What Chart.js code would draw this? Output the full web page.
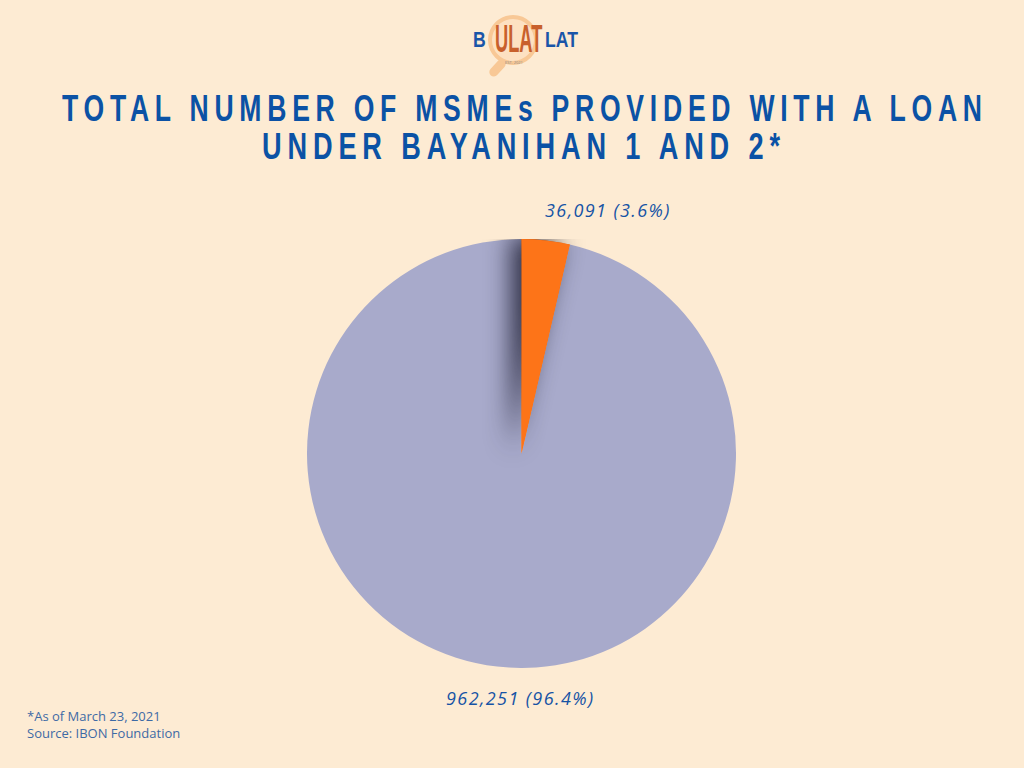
<!DOCTYPE html>
<html>
<head>
<meta charset="utf-8">
<script src="https://cdn.jsdelivr.net/npm/chart.js@4.4.1/dist/chart.umd.min.js"></script>
<style>
  html, body { margin:0; padding:0; }
  body { width:1024px; height:768px; background:#fdebd3; position:relative; overflow:hidden; font-family:"Open Sans", sans-serif; }
  .tl { position:absolute; color:#0b52a5; font-family:"Liberation Sans", Arial, sans-serif; font-weight:bold;
        font-size:37px; letter-spacing:8px; line-height:37px; white-space:nowrap; transform-origin:left top; }
  #t1 { left:62px; top:90px; }
  #t2 { left:262px; top:128px; }
  #pieWrap { position:absolute; left:307px; top:239px; width:429px; height:429px; }
  .lbl { position:absolute; color:#1653a5; font-style:italic; font-size:18px; letter-spacing:1.4px; font-weight:500; white-space:nowrap; }
  #lblSmall { left:545px; top:198px; }
  #lblBig { left:446px; top:686px; }
  #foot { position:absolute; left:27px; top:708px; color:#3d6aa5; font-size:13px; line-height:17px; }
  #logo { position:absolute; left:0; top:0; width:1024px; height:90px; }
  #ring { position:absolute; left:488px; top:15px; width:42px; height:42px; border-radius:50%; border:4px solid #f8c896; background:#fde1c2; }
  #handle { position:absolute; left:493px; top:58px; width:9px; height:20px; background:#f8c896; border-radius:5px; transform:rotate(42deg); }
  .lb { position:absolute; top:27px; font-family:"Liberation Sans", sans-serif; font-weight:bold; font-size:22px; color:#1a55a8; transform-origin:left top; transform:scaleX(0.8); }
  #ulat { position:absolute; top:20px; left:495px; font-family:"Liberation Sans", sans-serif; font-weight:bold; font-size:38px; line-height:38px; color:#c8602c; transform-origin:left top; transform:scaleX(0.48); letter-spacing:0px; }
  #est { position:absolute; top:60px; left:505px; font-size:4px; color:#888; }
</style>
</head>
<body>
<div id="logo">
  <div id="handle"></div>
  <div id="ring"></div>
  <span class="lb" style="left:473px;">B</span>
  <span id="ulat">ULAT</span>
  <span id="est">EST. 2021</span>
  <span class="lb" style="left:545px;">LAT</span>
</div>
<div class="tl" id="t1">TOTAL NUMBER OF MSMEs PROVIDED WITH A LOAN</div>
<div class="tl" id="t2">UNDER BAYANIHAN 1 AND 2*</div>
<div id="pieWrap"><canvas id="c"></canvas></div>
<div class="lbl" id="lblSmall"></div>
<div class="lbl" id="lblBig"></div>
<div id="foot">*As of March 23, 2021<br>Source: IBON Foundation</div>
<script>
// Data (drawn order: big slice first, small slice last so its shadow sits on top)
const categories = ["Not provided", "Provided with a loan"];
const values = [962251, 36091];
const colors = ["#a8aacb", "#fd7418"];

// fit title lines to their widths in the reference
[["t1", 920], ["t2", 518]].forEach(([id, w]) => {
  const el = document.getElementById(id);
  const cw = el.getBoundingClientRect().width - 8;
  el.style.transform = "scaleX(" + (w / cw) + ")";
});

const total = values.reduce((a, b) => a + b, 0);
const fmt = v => v.toLocaleString("en-US") + " (" + (v / total * 100).toFixed(1) + "%)";
document.getElementById("lblBig").textContent = fmt(values[0]);
document.getElementById("lblSmall").textContent = fmt(values[1]);

// rotate so that the small slice starts at 12 o'clock going clockwise
const rotation = values[1] / total * 360;

const shadowPlugin = {
  id: "sliceShadow",
  afterDatasetsDraw(chart) {
    const ctx = chart.ctx;
    const arc = chart.getDatasetMeta(0).data[1];
    ctx.save();
    ctx.shadowColor = "rgba(25,25,45,0.85)";
    ctx.shadowBlur = 24;
    ctx.shadowOffsetX = -10;
    ctx.shadowOffsetY = -3;
    arc.draw(ctx);
    ctx.restore();
  }
};

new Chart(document.getElementById("c"), {
  type: "pie",
  data: {
    labels: categories,
    datasets: [{ data: values, backgroundColor: colors, borderWidth: 0, hoverOffset: 0 }]
  },
  options: {
    responsive: true,
    maintainAspectRatio: false,
    animation: false,
    rotation: rotation,
    layout: { padding: 0 },
    plugins: { legend: { display: false }, tooltip: { enabled: false } },
    events: []
  },
  plugins: [shadowPlugin]
});
</script>
</body>
</html>
